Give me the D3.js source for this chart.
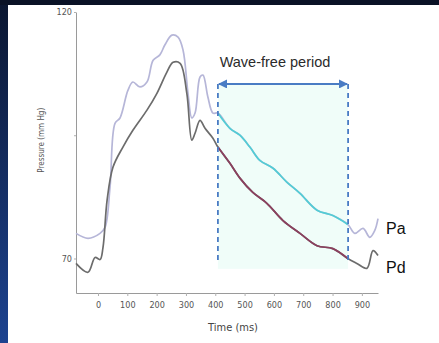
<!DOCTYPE html>
<html>
<head>
<meta charset="utf-8">
<script src="https://cdn.jsdelivr.net/npm/d3@7"></script>
<style>
  html, body { margin: 0; padding: 0; }
  body { width: 439px; height: 343px; overflow: hidden; background: #0a1428; }
</style>
</head>
<body>
<div id="chart"></div>
<script>
// Aortic pressure (Pa) trace
const paTime  = [-75, -34, 7, 24, 41, 58, 75, 102, 119, 143, 167, 188, 211, 228, 252, 273, 290, 307, 320, 331, 348, 358, 375, 392, 409,
                 450, 484, 518, 552, 597, 644, 689, 747, 801, 852, 876, 904, 927, 944, 955];
const paValue = [75.1, 74.1, 75.1, 76.3, 84.4, 97.4, 98.5, 104.1, 105.8, 104.8, 105.8, 110.2, 111.3, 113.3, 115.3, 114.9, 112.3, 103.5, 98.5, 99.5, 106.8, 107.2, 102.7, 99.5, 99.5,
                 96.4, 95.0, 92.6, 89.9, 88.3, 85.5, 83.2, 79.8, 78.7, 76.9, 75.1, 76.1, 74.3, 75.7, 78.1];

// Distal pressure (Pd) trace
const pdTime  = [-75, -34, -10, 7, 17, 31, 51, 85, 119, 167, 201, 235, 256, 280, 303, 320, 331, 348, 365, 392, 409,
                 450, 484, 528, 576, 631, 689, 747, 801, 852, 883, 917, 938, 955];
const pdValue = [69.0, 67.2, 70.2, 69.8, 72.2, 81.8, 88.5, 92.6, 96.0, 100.1, 103.5, 107.8, 109.8, 109.6, 103.5, 94.0, 95.4, 98.0, 96.4, 94.4, 92.6,
                 89.3, 86.3, 83.4, 81.2, 77.7, 75.1, 72.6, 72.0, 70.0, 69.0, 68.0, 71.6, 70.6];

const xTicks = [0, 100, 200, 300, 400, 500, 600, 700, 800, 900];
const yTicks = [70, 95, 120];
const yTickLabels = ['70', '', '120'];

// wave-free window (ms) and its annotation level (mm Hg)
const windowStart = 409;
const windowEnd = 853;
const arrowLevel = 105.4;
const windowBottom = 67.9;
const dashBottom = 69.1;

const seriesLabels = [{ name: 'Pa', value: 76.1 }, { name: 'Pd', value: 68.2 }];

const W = 439, H = 343;
const svg = d3.select('#chart').append('svg')
  .attr('width', W)
  .attr('height', H);

// background
const bg = svg.append('defs').append('linearGradient')
  .attr('id', 'bgGrad').attr('x1', 0).attr('y1', 0).attr('x2', 0).attr('y2', 1);
bg.append('stop').attr('offset', '0%').attr('stop-color', '#0b1630');
bg.append('stop').attr('offset', '100%').attr('stop-color', '#1d4390');
svg.append('rect').attr('width', W).attr('height', H).attr('fill', 'url(#bgGrad)');
svg.append('rect').attr('x', 0).attr('y', 0).attr('width', W).attr('height', 5).attr('fill', '#0a1226');
svg.append('rect').attr('x', 8).attr('y', 5).attr('width', W - 8).attr('height', H - 5).attr('fill', '#ffffff');

const x = d3.scaleLinear().domain([-75, 955]).range([76, 378]);
const y = d3.scaleLinear().domain([63, 120]).range([293, 12]);

// Wave-free shading
svg.append('rect')
  .attr('x', x(windowStart))
  .attr('y', y(arrowLevel))
  .attr('width', x(windowEnd) - x(windowStart))
  .attr('height', y(windowBottom) - y(arrowLevel))
  .attr('fill', '#f0fdf9');

// Axes
const xAxis = svg.append('g')
  .attr('transform', `translate(0,${y(63)})`)
  .call(d3.axisBottom(x).tickValues(xTicks).tickSize(3).tickSizeOuter(0).tickPadding(6));
xAxis.selectAll('text')
  .style('fill', '#555')
  .style('font-family', '"Liberation Sans Narrow", "DejaVu Sans Condensed", sans-serif')
  .style('font-size', '9px');

const yAxis = svg.append('g')
  .attr('transform', `translate(${x(-75)},0)`)
  .call(d3.axisLeft(y).tickValues(yTicks).tickFormat((d, i) => yTickLabels[i]).tickSize(2).tickSizeOuter(0).tickPadding(2));
yAxis.selectAll('text')
  .style('fill', '#555')
  .style('font-family', '"Liberation Sans Narrow", "DejaVu Sans Condensed", sans-serif')
  .style('font-size', '9px');

svg.selectAll('.domain').attr('stroke', '#9a9a9a');
svg.selectAll('.tick line').attr('stroke', '#b0b0b0');

// Lines
const line = d3.line()
  .x(d => x(d[0]))
  .y(d => y(d[1]))
  .curve(d3.curveCatmullRom.alpha(0.5));

const pa = paTime.map((t, i) => [t, paValue[i]]);
const pd = pdTime.map((t, i) => [t, pdValue[i]]);
const inWindow = d => d[0] >= windowStart && d[0] <= windowEnd;

svg.append('path').datum(pa).attr('d', line)
  .attr('fill', 'none').attr('stroke', '#b6b6d8').attr('stroke-width', 1.7);
svg.append('path').datum(pa.filter(inWindow)).attr('d', line)
  .attr('fill', 'none').attr('stroke', '#52cdd5').attr('stroke-width', 1.7);

svg.append('path').datum(pd).attr('d', line)
  .attr('fill', 'none').attr('stroke', '#6c6c6c').attr('stroke-width', 1.7);
svg.append('path').datum(pd.filter(inWindow)).attr('d', line)
  .attr('fill', 'none').attr('stroke', '#8c3f5e').attr('stroke-width', 1.7);

// Dashed window bounds
[windowStart, windowEnd].forEach(t => {
  svg.append('line')
    .attr('x1', x(t)).attr('x2', x(t))
    .attr('y1', y(arrowLevel)).attr('y2', y(dashBottom))
    .attr('stroke', '#4a7cc4')
    .attr('stroke-width', 1.8)
    .attr('stroke-dasharray', '5,4');
});

// Double arrow
const defs = svg.select('defs');
defs.append('marker')
  .attr('id', 'arrowEnd').attr('viewBox', '0 0 10 10')
  .attr('refX', 9).attr('refY', 5)
  .attr('markerWidth', 5).attr('markerHeight', 5)
  .attr('orient', 'auto-start-reverse')
  .append('path').attr('d', 'M0,0 L10,5 L0,10 z').attr('fill', '#4a7cc4');

svg.append('line')
  .attr('x1', x(windowStart) + 1).attr('x2', x(windowEnd) - 1)
  .attr('y1', y(arrowLevel)).attr('y2', y(arrowLevel))
  .attr('stroke', '#4a7cc4').attr('stroke-width', 1.8)
  .attr('marker-start', 'url(#arrowEnd)')
  .attr('marker-end', 'url(#arrowEnd)');

svg.append('text')
  .attr('x', (x(windowStart) + x(windowEnd)) / 2 - 8)
  .attr('y', 67)
  .attr('text-anchor', 'middle')
  .style('font-family', 'Arial, "Liberation Sans", sans-serif')
  .style('font-size', '14.5px')
  .style('fill', '#2b2b2b')
  .text('Wave-free period');

// Series labels
svg.selectAll('.series-label')
  .data(seriesLabels)
  .enter()
  .append('text')
  .attr('class', 'series-label')
  .attr('x', 386)
  .attr('y', d => y(d.value) + 6)
  .style('font-family', 'Arial, "Liberation Sans", sans-serif')
  .style('font-size', '16px')
  .style('fill', '#111')
  .text(d => d.name);

// Axis titles
svg.append('text')
  .attr('x', 233)
  .attr('y', 331)
  .attr('text-anchor', 'middle')
  .style('font-family', '"Liberation Sans Narrow", "DejaVu Sans Condensed", sans-serif')
  .style('font-size', '11px')
  .style('fill', '#444')
  .text('Time (ms)');

svg.append('text')
  .attr('transform', `translate(44,${y(95) + 5}) rotate(-90)`)
  .attr('text-anchor', 'middle')
  .style('font-family', '"Liberation Sans Narrow", "DejaVu Sans Condensed", sans-serif')
  .style('font-size', '8px')
  .style('fill', '#555')
  .text('Pressure (mm Hg)');
</script>
</body>
</html>
